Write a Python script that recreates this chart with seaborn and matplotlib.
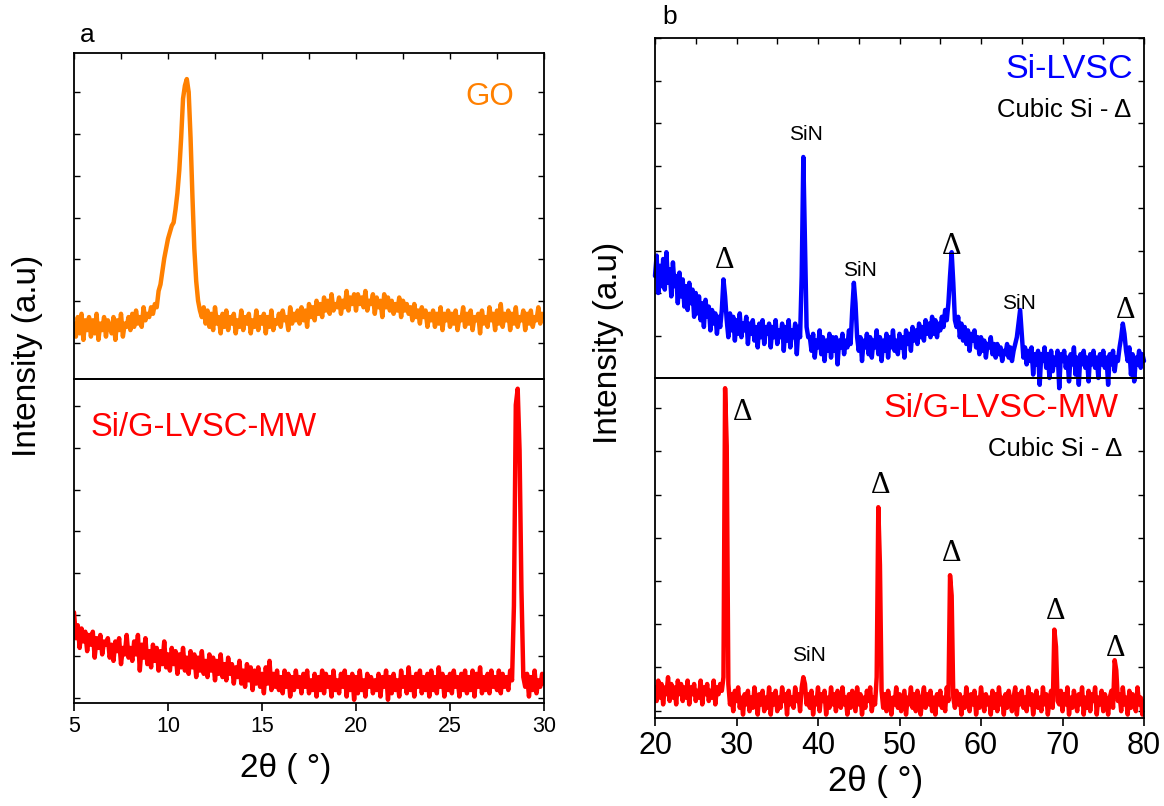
import numpy as np
import matplotlib
matplotlib.use("Agg")
import matplotlib.pyplot as plt
from matplotlib.ticker import MultipleLocator
import seaborn as sns

sns.set_style("ticks")
plt.rcParams['font.family'] = ['Liberation Sans', 'DejaVu Sans']
plt.rcParams['text.color'] = 'black'
plt.rcParams['axes.labelcolor'] = 'black'
plt.rcParams['xtick.color'] = 'black'
plt.rcParams['ytick.color'] = 'black'

# ---------------- data (intensity in % of each stacked sub-panel) ----------------
a_2theta = np.round(np.linspace(5, 30, 251), 2)
go_intensity = [
    17, 13, 19, 14, 20, 12, 18, 15, 19, 13,
    18, 14, 20, 12, 17, 15, 19, 13, 18, 16,
    14, 19, 12, 18, 15, 20, 13, 17, 16, 19,
    15, 20, 16, 21, 17, 19, 16, 22, 18, 20,
    19, 22, 20, 23, 22, 27, 29, 33, 37, 40,
    43, 45, 47, 48, 52, 57, 64, 74, 86, 90,
    92, 88, 74, 56, 40, 30, 24, 21, 19, 22,
    17, 21, 16, 20, 15, 22, 17, 19, 14, 20,
    16, 21, 15, 19, 17, 20, 14, 18, 16, 21,
    15, 19, 17, 20, 14, 18, 16, 21, 15, 19,
    17, 20, 14, 19, 16, 21, 15, 18, 17, 20,
    16, 21, 18, 19, 15, 22, 17, 20, 18, 21,
    17, 22, 18, 21, 16, 23, 19, 22, 18, 24,
    20, 23, 19, 25, 21, 24, 20, 26, 21, 23,
    22, 25, 20, 24, 22, 27, 21, 25, 23, 26,
    21, 26, 23, 25, 22, 27, 21, 24, 23, 26,
    20, 25, 22, 24, 19, 26, 22, 25, 21, 24,
    20, 23, 21, 25, 19, 24, 21, 23, 20, 22,
    18, 23, 19, 21, 17, 22, 19, 21, 16, 20,
    18, 21, 16, 20, 17, 22, 15, 20, 18, 21,
    16, 20, 17, 21, 15, 19, 18, 22, 16, 20,
    17, 21, 15, 19, 18, 20, 14, 21, 17, 19,
    16, 22, 18, 20, 15, 21, 17, 23, 16, 20,
    18, 21, 15, 20, 17, 22, 16, 19, 18, 21,
    15, 20, 17, 21, 16, 19, 18, 22, 17, 20,
    19,
]
sig_a_intensity = [
    28, 20, 24, 17, 23, 19, 22, 16, 21, 18,
    22, 14, 20, 17, 21, 15, 19, 18, 20, 14,
    18, 13, 19, 16, 20, 12, 17, 15, 21, 14,
    17, 13, 19, 15, 21, 10, 18, 14, 20, 12,
    16, 11, 18, 13, 17, 10, 16, 12, 19, 11,
    15, 10, 17, 12, 16, 9, 15, 11, 17, 10,
    14, 9, 16, 11, 15, 8, 14, 10, 16, 9,
    13, 8, 15, 10, 14, 7, 13, 9, 15, 8,
    12, 7, 14, 9, 12, 6, 11, 8, 13, 6,
    10, 5, 12, 7, 11, 4, 10, 6, 11, 5,
    9, 3, 11, 6, 13, 4, 9, 5, 10, 4,
    8, 3, 10, 5, 9, 2, 8, 4, 10, 5,
    8, 3, 9, 5, 10, 3, 7, 4, 9, 2,
    8, 4, 10, 3, 9, 5, 8, 2, 10, 4,
    7, 3, 9, 5, 10, 2, 8, 4, 9, 1,
    8, 3, 10, 4, 7, 2, 9, 5, 8, 3,
    7, 4, 9, 2, 8, 5, 10, 1, 8, 3,
    9, 4, 7, 2, 10, 5, 8, 3, 11, 4,
    8, 2, 9, 5, 10, 3, 8, 4, 9, 2,
    10, 4, 8, 3, 11, 5, 9, 2, 8, 4,
    9, 3, 10, 5, 8, 2, 9, 4, 10, 3,
    8, 4, 10, 2, 9, 5, 11, 3, 8, 4,
    9, 3, 10, 5, 8, 4, 10, 3, 9, 5,
    8, 4, 10, 7, 30, 92, 97, 78, 35, 8,
    5, 9, 2, 8, 4, 10, 3, 7, 5, 9,
    6,
]

b_2theta = np.round(np.linspace(20, 80, 301), 2)
si_lvsc_intensity = [
    30, 36, 25, 33, 27, 35, 26, 37, 28, 32,
    24, 34, 27, 30, 22, 31, 24, 29, 21, 27,
    20, 28, 22, 26, 18, 25, 19, 24, 17, 22,
    15, 23, 18, 21, 14, 20, 16, 19, 13, 18,
    15, 20, 29, 24, 17, 12, 19, 14, 18, 11,
    17, 13, 19, 12, 16, 14, 18, 10, 16, 13,
    17, 11, 15, 9, 16, 12, 17, 10, 15, 13,
    16, 9, 15, 12, 17, 10, 14, 12, 16, 8,
    15, 11, 17, 9, 14, 12, 16, 7, 15, 12,
    30, 65, 40, 15, 12, 12, 8, 13, 6, 11,
    9, 14, 7, 12, 5, 11, 8, 13, 6, 12,
    8, 12, 4, 11, 9, 13, 7, 11, 9, 14,
    10, 20, 28, 22, 12, 8, 12, 5, 11, 9,
    13, 7, 12, 6, 11, 9, 14, 7, 12, 5,
    11, 8, 13, 6, 12, 9, 14, 8, 11, 7,
    13, 9, 12, 6, 14, 10, 13, 8, 15, 11,
    14, 10, 16, 12, 15, 11, 17, 13, 16, 12,
    18, 13, 17, 12, 16, 14, 18, 15, 20, 17,
    22, 30, 37, 28, 17, 15, 18, 12, 16, 11,
    15, 10, 14, 8, 13, 11, 14, 9, 12, 7,
    12, 8, 11, 6, 10, 9, 12, 7, 10, 6,
    10, 7, 9, 5, 8, 7, 10, 6, 9, 5,
    8, 10, 12, 16, 20, 13, 6, 9, 4, 8,
    5, 9, 1, 7, 4, 8, -2, 7, 5, 9,
    3, 7, 0, 8, 2, 6, 4, 8, -3, 7,
    5, 8, 3, 6, -1, 7, 4, 9, 1, 6,
    -2, 7, 4, 8, 3, 6, -1, 7, 4, 8,
    3, 6, 0, 7, 4, 8, 3, 6, -2, 7,
    4, 8, 2, 6, 5, 9, 12, 16, 13, 8,
    5, 9, 1, 7, -1, 6, 4, 8, 3, 7,
    5,
]
sig_b_intensity = [
    9, 5, 11, 6, 10, 4, 9, 7, 12, 5,
    10, 6, 9, 4, 11, 7, 10, 5, 9, 6,
    11, 4, 9, 7, 10, 5, 8, 6, 11, 4,
    9, 7, 10, 5, 8, 6, 11, 4, 9, 7,
    10, 8, 12, 97, 80, 10, 4, 7, 2, 8,
    5, 9, 3, 6, 1, 7, 4, 8, 2, 6,
    3, 9, 5, 1, 7, 4, 8, 2, 6, 3,
    9, 1, 7, 4, 8, 2, 6, 3, 9, 5,
    7, 1, 8, 4, 6, 3, 9, 5, 7, 2,
    9, 12, 10, 4, 7, 3, 8, 1, 6, 4,
    9, 2, 7, 5, 8, 1, 6, 3, 9, 4,
    7, 2, 8, 5, 3, 9, 4, 6, 1, 7,
    3, 8, 5, 2, 9, 4, 7, 1, 6, 3,
    8, 5, 9, 2, 6, 4, 12, 62, 45, 8,
    3, 7, 2, 8, 5, 1, 6, 4, 9, 3,
    7, 2, 5, 8, 1, 6, 4, 9, 3, 7,
    2, 8, 5, 1, 6, 9, 3, 7, 4, 8,
    2, 6, 1, 7, 4, 8, 3, 6, 2, 9,
    5, 42, 36, 6, 3, 8, 4, 7, 1, 6,
    3, 9, 5, 2, 7, 4, 8, 1, 6, 3,
    9, 5, 2, 7, 4, 6, 1, 8, 3, 7,
    2, 9, 4, 6, 1, 7, 3, 8, 5, 2,
    6, 9, 1, 7, 4, 8, 3, 6, 2, 9,
    4, 7, 1, 5, 8, 3, 6, 2, 9, 4,
    7, 1, 5, 8, 3, 26, 21, 5, 4, 8,
    2, 7, 4, 9, 1, 6, 3, 8, 5, 2,
    7, 4, 9, 1, 6, 3, 8, 2, 7, 5,
    9, 1, 6, 4, 8, 2, 7, 5, 1, 6,
    8, 3, 17, 14, 5, 7, 2, 9, 4, 6,
    1, 8, 3, 7, 5, 2, 9, 4, 6, 1,
    5,
]

a_xticks = [5, 10, 15, 20, 25, 30]
b_xticks = [20, 30, 40, 50, 60, 70, 80]
b_top_marks = [("Δ", 28.6, 34.7), ("SiN", 38.5, 71.5), ("SiN", 45.2, 31.6),
               ("Δ", 56.4, 38.6), ("SiN", 64.6, 22.0), ("Δ", 77.7, 20.0)]
b_bot_marks = [("Δ", 30.7, 90.0), ("SiN", 38.9, 18.5), ("Δ", 47.7, 68.5),
               ("Δ", 56.4, 48.4), ("Δ", 69.2, 31.3), ("Δ", 76.5, 20.5)]

ORANGE, RED, BLUE = "#FF8000", "#FF0000", "#0000FF"

W, H = 1164, 806
fig = plt.figure(figsize=(W / 100, H / 100), dpi=100)


def box(l, t, r, b):
    return [l / W, 1 - b / H, (r - l) / W, (b - t) / H]


ax_at = fig.add_axes(box(74, 53, 544, 379))
ax_ab = fig.add_axes(box(74, 379, 544, 703))
ax_bt = fig.add_axes(box(655, 38, 1144, 378))
ax_bb = fig.add_axes(box(655, 378, 1144, 718))
for ax in (ax_ab, ax_bb):
    ax.patch.set_visible(False)

LW = 3.2
sns.lineplot(x=a_2theta, y=go_intensity, ax=ax_at, color=ORANGE, lw=LW)
sns.lineplot(x=a_2theta, y=sig_a_intensity, ax=ax_ab, color=RED, lw=LW)
sns.lineplot(x=b_2theta, y=si_lvsc_intensity, ax=ax_bt, color=BLUE, lw=LW, clip_on=False)
sns.lineplot(x=b_2theta, y=sig_b_intensity, ax=ax_bb, color=RED, lw=LW)

ytick_sets = {
    ax_at: np.arange(11.1, 100, 12.8),
    ax_ab: np.arange(1.6, 100, 12.85),
    ax_bt: np.arange(12.4, 100, 12.5),
    ax_bb: np.arange(2.2, 100, 12.7),
}
for ax in (ax_at, ax_ab, ax_bt, ax_bb):
    ax.set_ylim(0, 100)
    ax.set_yticks(ytick_sets[ax])
    ax.set_yticklabels([])
    ax.set_ylabel("")
    ax.set_xlabel("")
    for s in ax.spines.values():
        s.set_linewidth(1.3)
        s.set_color("black")
    ax.tick_params(axis="y", direction="in", left=True, right=True, length=4, width=1.0)

for top, bot, ticks, minor, tfs in ((ax_at, ax_ab, a_xticks, 2.5, 15.5), (ax_bt, ax_bb, b_xticks, 5, 22)):
    for ax in (top, bot):
        ax.set_xlim(ticks[0], ticks[-1])
        ax.set_xticks(ticks)
        ax.xaxis.set_minor_locator(MultipleLocator(minor))
    top.tick_params(axis="x", which="both", direction="in", top=True, bottom=False,
                    labelbottom=False, length=4, width=1.0)
    bot.tick_params(axis="x", which="major", direction="out", top=False, bottom=True,
                    length=6, width=1.2, labelsize=tfs, pad=3)
    bot.tick_params(axis="x", which="minor", bottom=False, top=False)

# in-plot labels
ax_at.text(27.1, 86.5, "GO", color=ORANGE, fontsize=22.5, ha="center", va="center")
ax_ab.text(5.9, 84.9, "Si/G-LVSC-MW", color=RED, fontsize=23.5, ha="left", va="center")
ax_bt.text(0.978, 0.906, "Si-LVSC", color=BLUE, fontsize=24.5, ha="right", va="center",
           transform=ax_bt.transAxes)
ax_bt.text(0.974, 0.788, "Cubic Si - Δ", color="black", fontsize=18.5, ha="right",
           va="center", transform=ax_bt.transAxes)
ax_bb.text(0.949, 0.91, "Si/G-LVSC-MW", color=RED, fontsize=24.5, ha="right", va="center",
           transform=ax_bb.transAxes)
ax_bb.text(0.956, 0.79, "Cubic Si - Δ", color="black", fontsize=18.5, ha="right",
           va="center", transform=ax_bb.transAxes)

for ax, marks in ((ax_bt, b_top_marks), (ax_bb, b_bot_marks)):
    for txt, xv, yv in marks:
        if txt == "Δ":
            ax.text(xv, yv, txt, fontsize=22, ha="center", va="center",
                    family=["Liberation Serif", "DejaVu Serif"])
        else:
            ax.text(xv, yv, txt, fontsize=15, ha="center", va="center")

fig.text(87 / W, 1 - 35 / H, "a", fontsize=19, ha="center", va="center")
fig.text(670 / W, 1 - 17 / H, "b", fontsize=19, ha="center", va="center")
fig.text(28 / W, 1 - 356 / H, "Intensity (a.u)", fontsize=24, rotation=90,
         ha="center", va="center")
fig.text(608 / W, 1 - 343 / H, "Intensity (a.u)", fontsize=24, rotation=90,
         ha="center", va="center")
fig.text(286 / W, 1 - 768 / H, "2θ ( °)", fontsize=24, ha="center", va="center")
fig.text(876 / W, 1 - 782 / H, "2θ ( °)", fontsize=25, ha="center", va="center")

fig.savefig("out.png", dpi=100)
